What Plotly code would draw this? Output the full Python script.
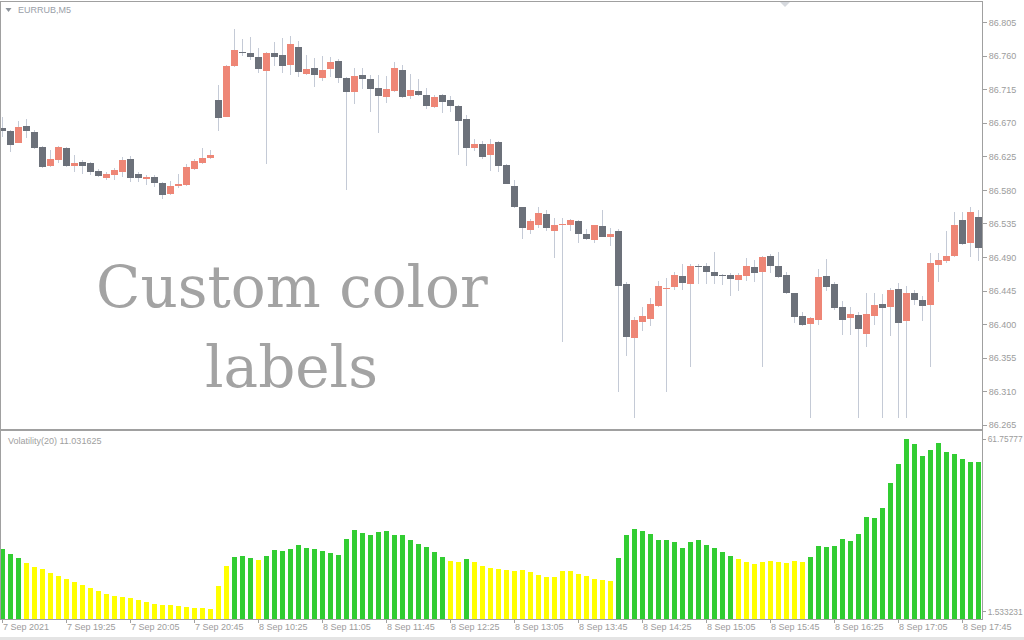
import plotly.graph_objects as go

# ---------------- data (EURRUB, M5) ----------------
opens = [86.664, 86.660, 86.644, 86.666, 86.658, 86.638, 86.613, 86.621, 86.637, 86.613,
         86.618, 86.617, 86.606, 86.597, 86.601, 86.605, 86.622, 86.602, 86.595, 86.598,
         86.590, 86.575, 86.586, 86.587, 86.609, 86.617, 86.624, 86.701, 86.679, 86.747,
         86.766, 86.764, 86.759, 86.740, 86.764, 86.762, 86.748, 86.772, 86.736, 86.744,
         86.731, 86.743, 86.754, 86.731, 86.712, 86.735, 86.730, 86.717, 86.705, 86.713,
         86.742, 86.707, 86.713, 86.708, 86.692, 86.708, 86.701, 86.693, 86.676, 86.637,
         86.642, 86.628, 86.645, 86.614, 86.586, 86.558, 86.527, 86.534, 86.548, 86.526,
         86.534, 86.533, 86.539, 86.522, 86.514, 86.532, 86.518, 86.526, 86.455, 86.382,
         86.404, 86.408, 86.425, 86.448, 86.450, 86.465, 86.454, 86.479, 86.479, 86.471,
         86.467, 86.467, 86.460, 86.465, 86.477, 86.471, 86.492, 86.479, 86.467, 86.442,
         86.411, 86.401, 86.406, 86.465, 86.454, 86.424, 86.409, 86.413, 86.387, 86.411,
         86.428, 86.424, 86.448, 86.405, 86.442, 86.433, 86.426, 86.480, 86.485, 86.492,
         86.540, 86.509, 86.544]
highs = [86.678, 86.661, 86.673, 86.676, 86.661, 86.640, 86.634, 86.640, 86.638, 86.628,
         86.621, 86.618, 86.609, 86.605, 86.610, 86.625, 86.626, 86.605, 86.601, 86.601,
         86.591, 86.593, 86.602, 86.615, 86.622, 86.637, 86.634, 86.721, 86.748, 86.797,
         86.783, 86.786, 86.771, 86.766, 86.779, 86.785, 86.787, 86.780, 86.762, 86.758,
         86.760, 86.759, 86.756, 86.732, 86.744, 86.744, 86.735, 86.735, 86.734, 86.752,
         86.748, 86.736, 86.730, 86.717, 86.708, 86.709, 86.707, 86.694, 86.681, 86.649,
         86.646, 86.649, 86.646, 86.615, 86.594, 86.558, 86.542, 86.558, 86.554, 86.543,
         86.543, 86.542, 86.540, 86.528, 86.534, 86.554, 86.530, 86.528, 86.457, 86.410,
         86.424, 86.436, 86.458, 86.462, 86.471, 86.481, 86.481, 86.481, 86.483, 86.497,
         86.468, 86.469, 86.469, 86.489, 86.487, 86.492, 86.495, 86.497, 86.471, 86.443,
         86.417, 86.410, 86.475, 86.488, 86.457, 86.432, 86.424, 86.417, 86.442, 86.442,
         86.441, 86.449, 86.456, 86.452, 86.446, 86.438, 86.496, 86.496, 86.526, 86.551,
         86.551, 86.558, 86.554]
lows = [86.652, 86.632, 86.643, 86.651, 86.636, 86.610, 86.611, 86.617, 86.612, 86.605,
        86.602, 86.601, 86.598, 86.594, 86.594, 86.598, 86.591, 86.591, 86.587, 86.585,
        86.568, 86.574, 86.583, 86.586, 86.607, 86.615, 86.622, 86.660, 86.678, 86.745,
        86.760, 86.755, 86.738, 86.615, 86.747, 86.738, 86.735, 86.732, 86.735, 86.719,
        86.727, 86.732, 86.724, 86.581, 86.696, 86.716, 86.685, 86.657, 86.697, 86.712,
        86.704, 86.703, 86.707, 86.689, 86.691, 86.684, 86.685, 86.628, 86.613, 86.633,
        86.622, 86.606, 86.605, 86.588, 86.557, 86.515, 86.522, 86.530, 86.526, 86.490,
        86.377, 86.526, 86.510, 86.513, 86.510, 86.517, 86.506, 86.309, 86.358, 86.275,
        86.392, 86.398, 86.424, 86.309, 86.447, 86.446, 86.343, 86.454, 86.454, 86.454,
        86.453, 86.438, 86.445, 86.458, 86.457, 86.343, 86.469, 86.462, 86.441, 86.402,
        86.398, 86.275, 86.399, 86.445, 86.420, 86.386, 86.386, 86.275, 86.370, 86.399,
        86.275, 86.385, 86.275, 86.275, 86.426, 86.405, 86.343, 86.457, 86.483, 86.491,
        86.507, 86.491, 86.485]
closes = [86.660, 86.641, 86.665, 86.660, 86.637, 86.611, 86.622, 86.638, 86.613, 86.617,
          86.613, 86.605, 86.599, 86.602, 86.607, 86.621, 86.597, 86.597, 86.598, 86.590,
          86.574, 86.586, 86.588, 86.611, 86.619, 86.624, 86.627, 86.677, 86.747, 86.768,
          86.764, 86.759, 86.743, 86.764, 86.759, 86.747, 86.776, 86.739, 86.743, 86.735,
          86.742, 86.752, 86.731, 86.712, 86.734, 86.730, 86.716, 86.707, 86.716, 86.744,
          86.705, 86.715, 86.708, 86.693, 86.705, 86.699, 86.693, 86.673, 86.637, 86.642,
          86.625, 86.642, 86.613, 86.589, 86.558, 86.530, 86.539, 86.550, 86.530, 86.534,
          86.535, 86.540, 86.522, 86.515, 86.533, 86.518, 86.522, 86.452, 86.384, 86.406,
          86.411, 86.428, 86.452, 86.449, 86.467, 86.456, 86.479, 86.477, 86.471, 86.465,
          86.465, 86.461, 86.467, 86.479, 86.469, 86.491, 86.479, 86.464, 86.442, 86.410,
          86.399, 86.409, 86.464, 86.450, 86.422, 86.406, 86.414, 86.394, 86.414, 86.426,
          86.422, 86.446, 86.402, 86.442, 86.433, 86.425, 86.483, 86.487, 86.492, 86.534,
          86.508, 86.551, 86.503]

volatility = [23.5, 21.7, 20.1, 18.5, 17.2, 16.4, 15.0, 14.1, 12.9, 11.9,
              10.8, 9.9, 8.8, 7.8, 7.1, 6.7, 6.2, 5.6, 4.9, 4.3,
              3.9, 3.9, 3.5, 3.1, 2.8, 2.8, 2.5, 10.6, 17.6, 20.7,
              21.0, 20.4, 19.7, 21.1, 23.0, 22.7, 23.5, 24.8, 23.8, 23.5,
              22.8, 22.1, 21.4, 26.9, 30.0, 29.0, 28.3, 29.3, 29.7, 28.3,
              28.3, 26.5, 25.1, 24.1, 22.4, 20.6, 19.2, 18.9, 19.9, 18.9,
              17.5, 16.8, 16.4, 16.1, 15.7, 16.1, 15.4, 14.3, 13.6, 13.6,
              15.7, 15.7, 14.7, 14.0, 12.9, 12.6, 12.2, 20.1, 28.3, 30.4,
              29.7, 28.6, 26.5, 26.5, 25.8, 23.7, 25.8, 26.5, 24.8, 23.7,
              22.4, 21.0, 19.9, 18.9, 18.2, 18.9, 19.2, 18.9, 18.5, 19.2,
              18.9, 20.6, 24.4, 24.1, 24.4, 26.9, 26.2, 28.6, 34.6, 34.2,
              37.7, 46.4, 53.0, 61.75777, 60.0, 55.8, 57.9, 60.4, 57.2, 56.5,
              54.8, 53.7, 53.7]
# colour label of each volatility bar, as runs: (label, count)
vol_state_runs = [("G", 3), ("Y", 26), ("G", 3), ("Y", 1), ("G", 23), ("Y", 2), ("G", 1),
                  ("Y", 18), ("G", 15), ("Y", 9), ("G", 22)]

time_tick_bars = [0, 8, 16, 24, 32, 40, 48, 56, 64, 72, 80, 88, 96, 104, 112, 120]
time_tick_labels = ["7 Sep 2021", "7 Sep 19:25", "7 Sep 20:05", "7 Sep 20:45",
                    "8 Sep 10:25", "8 Sep 11:05", "8 Sep 11:45", "8 Sep 12:25",
                    "8 Sep 13:05", "8 Sep 13:45", "8 Sep 14:25", "8 Sep 15:05",
                    "8 Sep 15:45", "8 Sep 16:25", "8 Sep 17:05", "8 Sep 17:45"]
price_ticks = [86.265, 86.310, 86.355, 86.400, 86.445, 86.490, 86.535,
               86.580, 86.625, 86.670, 86.715, 86.760, 86.805]
vol_ticks = [1.533231, 61.75777]
vol_tick_labels = ["1.533231", "61.75777"]

# ---------------- styling ----------------
W, H = 1024, 640
ML, MR, MT, MB = 1, 42, 2, 21
BULL = "#EE8676"
BEAR = "#6C717A"
WICK = "#C4CAD6"
GREEN = "#32CD32"
YELLOW = "#FFFF00"
FRAME = "#A0A0A0"
LABEL = "#9C9C9C"
FONT = "Liberation Sans, Arial, sans-serif"

n = len(opens)
idx = list(range(n))
vol_state = []
for lab, cnt in vol_state_runs:
    vol_state += [lab] * cnt

def px2paper(px, py):
    return (px - ML) / (W - ML - MR), (H - MB - py) / (H - MT - MB)

main_bottom = px2paper(0, 429)[1]
vol_top = px2paper(0, 431)[1]

fig = go.Figure()

# wicks (thin bars, drawn first so the bodies sit on top)
fig.add_trace(go.Bar(
    x=idx, base=lows, y=[h - l for h, l in zip(highs, lows)], width=0.125,
    marker=dict(color=WICK, line=dict(width=0)),
    hoverinfo="skip", showlegend=False, xaxis="x", yaxis="y"))
# bodies
fig.add_trace(go.Bar(
    x=idx,
    base=[min(o, c) for o, c in zip(opens, closes)],
    y=[abs(c - o) for o, c in zip(opens, closes)],
    width=0.875,
    marker=dict(color=[BULL if c >= o else BEAR for o, c in zip(opens, closes)],
                line=dict(width=0)),
    showlegend=False, xaxis="x", yaxis="y"))

VOL_FLOOR = -1.0124
fig.add_trace(go.Bar(
    x=idx, y=[v - VOL_FLOOR for v in volatility], base=VOL_FLOOR, width=0.625,
    marker=dict(color=[GREEN if s == "G" else YELLOW for s in vol_state], line=dict(width=0)),
    showlegend=False, xaxis="x2", yaxis="y2"))

xr = [(ML - 2.5) / 8.0, (W - MR - 2.5) / 8.0]

axis_common = dict(showgrid=False, zeroline=False, showline=True, linecolor=FRAME,
                   linewidth=1, mirror=True, automargin=False)
fig.update_layout(
    width=W, height=H,
    margin=dict(l=ML, r=MR, t=MT, b=MB, pad=0),
    paper_bgcolor="white", plot_bgcolor="white",
    barmode="overlay", bargap=0,
    showlegend=False,
    xaxis=dict(domain=[0, 1], range=xr, anchor="y", showticklabels=False, ticks="", **axis_common),
    yaxis=dict(domain=[main_bottom, 1], range=[86.2599, 86.8328], side="right",
               tickvals=price_ticks, ticktext=[f"{p:.3f}" for p in price_ticks],
               ticks="outside", ticklen=4, tickcolor=FRAME,
               tickfont=dict(family=FONT, size=9, color=LABEL), **axis_common),
    xaxis2=dict(domain=[0, 1], range=xr, anchor="y2", matches="x",
                tickvals=time_tick_bars, ticktext=[""] * len(time_tick_bars),
                ticks="outside", ticklen=3, tickcolor=FRAME, **axis_common),
    yaxis2=dict(domain=[0, vol_top], range=[VOL_FLOOR, 64.5475], side="right", anchor="x2",
                tickvals=vol_ticks, ticktext=vol_tick_labels,
                ticks="outside", ticklen=3, tickcolor=FRAME,
                tickfont=dict(family=FONT, size=8.4, color=LABEL), **axis_common),
)

annotations = []
# time labels (left-aligned at their ticks, as in MetaTrader)
for b, lab in zip(time_tick_bars, time_tick_labels):
    annotations.append(dict(x=b, xref="x2", y=px2paper(0, 627)[1], yref="paper",
                            text=lab, showarrow=False, xanchor="left", yanchor="middle",
                            xshift=-2, font=dict(family=FONT, size=9, color=LABEL)))
# chart title and indicator label
px_, py_ = px2paper(16, 10)
annotations.append(dict(x=px_, y=py_, xref="paper", yref="paper", text="EURRUB,M5",
                        showarrow=False, xanchor="left", yanchor="middle",
                        font=dict(family=FONT, size=9, color="#9AA0A8")))
px_, py_ = px2paper(6, 441)
annotations.append(dict(x=px_, y=py_, xref="paper", yref="paper", text="Volatility(20) 11.031625",
                        showarrow=False, xanchor="left", yanchor="middle",
                        font=dict(family=FONT, size=9, color="#A0A0A0")))
# big watermark text
for txt, cx, cy in [("Custom color", 292, 287), ("labels", 291, 367)]:
    px_, py_ = px2paper(cx, cy)
    annotations.append(dict(x=px_, y=py_, xref="paper", yref="paper", text=txt,
                            showarrow=False, xanchor="center", yanchor="middle",
                            font=dict(family="DejaVu Serif, serif", size=58, color="#A3A3A3")))
fig.update_layout(annotations=annotations)

def tri(cx, top, w, h):
    a = px2paper(cx - w / 2, top)
    b = px2paper(cx + w / 2, top)
    c = px2paper(cx, top + h)
    return f"M {a[0]},{a[1]} L {b[0]},{b[1]} L {c[0]},{c[1]} Z"

shapes = [
    dict(type="path", xref="paper", yref="paper", path=tri(8.5, 8, 6, 4),
         fillcolor="#8E949C", line=dict(width=0)),
    dict(type="path", xref="paper", yref="paper", path=tri(785, 2, 10, 5),
         fillcolor="#D6D9DE", line=dict(width=0)),
]
y0 = px2paper(0, 637)[1]
y1 = px2paper(0, 641)[1]
shapes.append(dict(type="rect", xref="paper", yref="paper", x0=px2paper(-2, 0)[0], x1=px2paper(1026, 0)[0],
                   y0=y1, y1=y0, fillcolor="#E4E4E4", line=dict(width=0)))
fig.update_layout(shapes=shapes)

fig.write_html("out.html", config={"displayModeBar": False, "staticPlot": True},
               post_script="document.body.style.margin='0';document.body.style.padding='0';document.body.style.overflow='hidden';")
